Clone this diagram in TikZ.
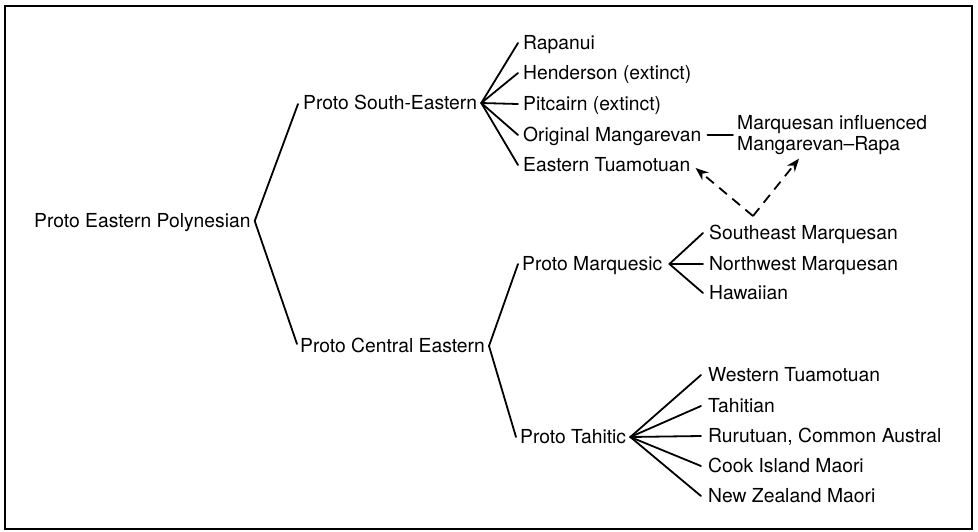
\documentclass[tikz,border=0pt]{standalone}
\usepackage{fontspec}
\setmainfont{TeX Gyre Heros}
\usetikzlibrary{calc,arrows.meta}
\tikzset{
  lbl/.style={anchor=west,inner sep=0pt,text height=13.8pt,text depth=0pt,font=\fontsize{19.3}{21}\selectfont},
  twoline/.style={anchor=west,inner sep=0pt,align=left,font=\fontsize{19.3}{20.5}\selectfont},
  br/.style={line width=1.8pt,line cap=round,line join=round},
  dasharrow/.style={line width=1.8pt,dash pattern=on 10pt off 7pt,-{Stealth[length=13pt,width=10pt]}},
  frame/.style={line width=2.4pt}
}
\begin{document}
\begin{tikzpicture}[x=1pt,y=-1pt]
\useasboundingbox (0,0) rectangle (978,531);
\draw[frame] (5,6) rectangle (972,529);

\node[lbl] (pep) at (34,221) {Proto Eastern Polynesian};
\node[lbl] (pse) at (303,103) {Proto South-Eastern};
\node[lbl] (pce) at (300,346) {Proto Central Eastern};
\node[lbl] (rap) at (523,43) {Rapanui};
\node[lbl] (hen) at (523,73) {Henderson (extinct)};
\node[lbl] (pit) at (523,104) {Pitcairn (extinct)};
\node[lbl] (om) at (523,135) {Original Mangarevan};
\node[lbl] (et) at (523,165) {Eastern Tuamotuan};
\node[twoline] (mi) at (737,135) {Marquesan influenced\\Mangarevan--Rapa};
\node[lbl] (pm) at (522,264) {Proto Marquesic};
\node[lbl] (sem) at (709,233) {Southeast Marquesan};
\node[lbl] (nwm) at (709,264) {Northwest Marquesan};
\node[lbl] (haw) at (709,293) {Hawaiian};
\node[lbl] (pt) at (520,437) {Proto Tahitic};
\node[lbl] (wt) at (708,375) {Western Tuamotuan};
\node[lbl] (tah) at (708,406) {Tahitian};
\node[lbl] (rur) at (708,436) {Rurutuan, Common Austral};
\node[lbl] (cim) at (708,466) {Cook Island Maori};
\node[lbl] (nzm) at (708,496) {New Zealand Maori};

% vertices
\coordinate (vpep) at ($(pep.east)+(4,0)$);
\coordinate (vpse) at ($(pse.east)+(4,0)$);
\coordinate (vpce) at ($(pce.east)+(4,0)$);
\coordinate (vpm) at ($(pm.east)+(7,0)$);
\coordinate (vpt) at ($(pt.east)+(4,0)$);
\coordinate (src) at (753,216);

\draw[br] ($(pse.west)+(-5,1)$) -- (vpep) -- ($(pce.west)+(-3,-2)$);
\foreach \c in {rap,hen,pit,om,et}
  \draw[br] (vpse) -- ($(\c.west)+(-5,0)$);
\foreach \c in {pm,pt}
  \draw[br] (vpce) -- ($(\c.west)+(-4,0)$);
\foreach \c in {sem,nwm,haw}
  \draw[br] (vpm) -- ($(\c.west)+(-6,0)$);
\foreach \c in {wt,tah,rur,cim,nzm}
  \draw[br] (vpt) -- ($(\c.west)+(-7,0)$);
\draw[br] ($(om.east)+(6,0)$) -- ($(mi.west)+(-4,0)$);

\draw[dasharrow] (src) -- ($(et.east)+(5,3)$);
\draw[dasharrow] (src) -- ($(mi.south west)+(62,4)$);
\end{tikzpicture}
\end{document}
